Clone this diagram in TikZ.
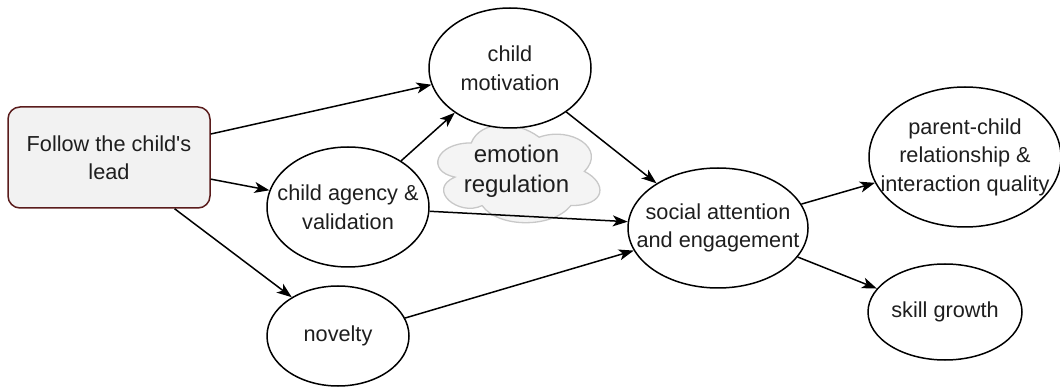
\documentclass[tikz,border=0pt]{standalone}
\usepackage{fontspec}
\setmainfont{Liberation Sans}[Ligatures=TeXOff]
\usetikzlibrary{shapes.geometric,arrows.meta}
\definecolor{boxline}{HTML}{5A1C1C}
\definecolor{boxfill}{HTML}{F2F2F2}
\definecolor{cloudline}{HTML}{C8C8C8}
\definecolor{cloudfill}{HTML}{F4F4F4}
\definecolor{ink}{HTML}{1E1E1E}
\begin{document}
\begin{tikzpicture}[x=1pt,y=-1pt,
  lbl/.style={font=\fontsize{21.7}{28.5}\selectfont, text=ink, align=center, inner sep=0pt},
  biglbl/.style={lbl, font=\fontsize{24}{30}\selectfont},
  oval/.style={ellipse, draw=black, line width=1.5pt, fill=white, inner sep=0pt},
  startbox/.style={rectangle, rounded corners=12pt, draw=boxline, fill=boxfill,
    line width=1.5pt, minimum width=202pt, minimum height=101pt, inner sep=0pt, lbl},
  puff/.style={draw=cloudline, fill=cloudfill, line width=1.3pt},
  link/.style={line width=1.5pt, -{Stealth[length=15pt,width=11pt,inset=4pt]}}
]
\useasboundingbox (0,0) rectangle (1060,387);

% background factor: cloud outline with its caption
\path[puff] (471.25,142.9)
  .. controls (435.05,142.9) and (426,171.4) .. (454.96,177.1)
  .. controls (426,189.64) and (458.58,217.0) .. (482.11,205.6)
  .. controls (498.4,228.4) and (552.7,228.4) .. (570.8,205.6)
  .. controls (607,205.6) and (607,182.8) .. (584.375,171.4)
  .. controls (607,148.6) and (570.8,125.8) .. (539.125,137.2)
  .. controls (516.5,120.1) and (480.3,120.1) .. (471.25,142.9) -- cycle;
\node[biglbl] (emo) at (516.5,171) {emotion\\regulation};

% starting point
\node[startbox] (box) at (109,157.5) {Follow the child's\\lead};

% intermediate factors
\node[oval, minimum width=162pt, minimum height=120pt,
  label={[lbl]center:{child\\motivation}}] (mot) at (510,68) {};
\node[oval, minimum width=162pt, minimum height=120pt,
  label={[lbl]center:{child agency \&\\validation}}] (agy) at (348,207) {};
\node[oval, minimum width=142pt, minimum height=100pt,
  label={[lbl]center:{novelty}}] (nov) at (338,336) {};
\node[oval, minimum width=180pt, minimum height=120pt,
  label={[lbl]center:{social attention\\and engagement}}] (soc) at (718,228) {};

% outcomes
\node[oval, minimum width=192pt, minimum height=140pt,
  label={[lbl]center:{parent-child\\relationship \&\\interaction quality}}] (par) at (965,157) {};
\node[oval, minimum width=154pt, minimum height=96pt,
  label={[lbl]center:{skill growth}}] (skl) at (945,312) {};

% connectors
\draw[link] (box.13) -- (mot.192);
\draw[link] (box.-12) -- (agy.168);
\draw[link] (box.-38) -- (nov.140);
\draw[link] (agy.41) -- (mot.219);
\draw[link] (mot.322) -- (soc.144);
\draw[link] (agy.-3) -- (soc.176);
\draw[link] (nov.15) -- (soc.195);
\draw[link] (soc.16) -- (par.196);
\draw[link] (soc.-20) -- (skl.161);
\end{tikzpicture}
\end{document}
